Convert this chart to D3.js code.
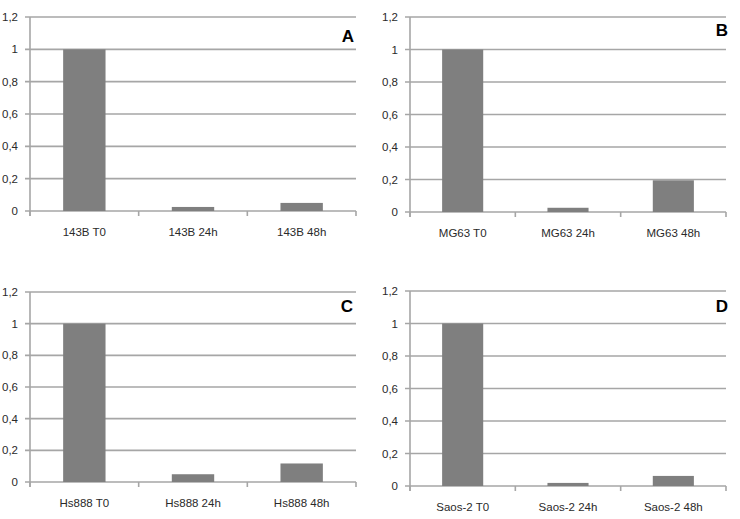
<!DOCTYPE html>
<html>
<head>
<meta charset="utf-8">
<script src="https://cdnjs.cloudflare.com/ajax/libs/d3/7.8.5/d3.min.js"></script>
<style>
  html, body { margin: 0; padding: 0; background: #fff; }
  svg { display: block; font-family: "Liberation Sans", Arial, sans-serif; }
</style>
</head>
<body>
<svg id="chart" width="740" height="519"></svg>
<script>
// data
var cats143B = ['143B T0', '143B 24h', '143B 48h'];
var vals143B = [1, 0.025, 0.05];

var catsMG63 = ['MG63 T0', 'MG63 24h', 'MG63 48h'];
var valsMG63 = [1, 0.026, 0.195];

var catsHs888 = ['Hs888 T0', 'Hs888 24h', 'Hs888 48h'];
var valsHs888 = [1, 0.049, 0.117];

var catsSaos2 = ['Saos-2 T0', 'Saos-2 24h', 'Saos-2 48h'];
var valsSaos2 = [1, 0.019, 0.062];

var yTicks = [0, 0.2, 0.4, 0.6, 0.8, 1, 1.2];
var panelLetters = ['A', 'B', 'C', 'D'];

var GRID = '#a6a6a6',
    BAR = '#7f7f7f',
    TEXT = '#2a2a2a';

// panel boxes (left, right, top, baseline) and letter positions
var panels = [
    { cats: cats143B, vals: vals143B, x0: 30, x1: 356, y0: 17, y1: 211, lx: 354, ly: 42 },
    { cats: catsMG63, vals: valsMG63, x0: 410, x1: 726, y0: 17, y1: 212, lx: 728, ly: 36 },
    { cats: catsHs888, vals: valsHs888, x0: 30, x1: 356, y0: 292, y1: 482, lx: 353, ly: 312 },
    { cats: catsSaos2, vals: valsSaos2, x0: 410, x1: 726, y0: 291, y1: 486, lx: 728, ly: 312 }
];

var svg = d3.select('#chart');
var fmt = function(v) { return String(+v.toFixed(1)).replace('.', ','); };

panels.forEach(function(p, i) {
    var g = svg.append('g').attr('class', 'panel');

    var x = d3.scaleBand().domain(p.cats).range([p.x0, p.x1]).padding(0),
        y = d3.scaleLinear().domain([0, 1.2]).range([p.y1, p.y0]);

    // gridlines
    g.selectAll('line.grid')
        .data(yTicks)
        .enter().append('line')
        .attr('class', 'grid')
        .attr('x1', p.x0 - 5).attr('x2', p.x1)
        .attr('y1', function(d) { return y(d); })
        .attr('y2', function(d) { return y(d); })
        .attr('stroke', GRID)
        .attr('stroke-width', 1.6);

    // y axis line
    g.append('line')
        .attr('x1', p.x0).attr('x2', p.x0)
        .attr('y1', p.y0).attr('y2', p.y1 + 5)
        .attr('stroke', GRID).attr('stroke-width', 1.6);

    // x ticks at band edges
    var edges = p.cats.map(function(c) { return x(c); }).concat([p.x1]);
    g.selectAll('line.xtick')
        .data(edges)
        .enter().append('line')
        .attr('class', 'xtick')
        .attr('x1', function(d) { return d; })
        .attr('x2', function(d) { return d; })
        .attr('y1', p.y1).attr('y2', p.y1 + 5)
        .attr('stroke', GRID).attr('stroke-width', 1.6);

    // y tick labels
    g.selectAll('text.ytl')
        .data(yTicks)
        .enter().append('text')
        .attr('class', 'ytl')
        .attr('x', p.x0 - 12)
        .attr('y', function(d) { return y(d) + 4; })
        .attr('text-anchor', 'end')
        .attr('font-size', 11.5)
        .attr('fill', TEXT)
        .text(fmt);

    // bars
    var bw = x.bandwidth() * 0.39;
    g.selectAll('rect.bar')
        .data(p.vals)
        .enter().append('rect')
        .attr('class', 'bar')
        .attr('x', function(d, j) { return x(p.cats[j]) + (x.bandwidth() - bw) / 2; })
        .attr('y', function(d) { return y(d); })
        .attr('width', bw)
        .attr('height', function(d) { return y(0) - y(d); })
        .attr('fill', BAR);

    // category labels
    g.selectAll('text.xtl')
        .data(p.cats)
        .enter().append('text')
        .attr('class', 'xtl')
        .attr('x', function(d) { return x(d) + x.bandwidth() / 2; })
        .attr('y', p.y1 + 25)
        .attr('text-anchor', 'middle')
        .attr('font-size', 11.5)
        .attr('fill', TEXT)
        .text(function(d) { return d; });

    // panel letter
    g.append('text')
        .attr('x', p.lx).attr('y', p.ly)
        .attr('text-anchor', 'end')
        .attr('font-size', 17)
        .attr('font-weight', 'bold')
        .attr('fill', '#000')
        .text(panelLetters[i]);
});
</script>
</body>
</html>
